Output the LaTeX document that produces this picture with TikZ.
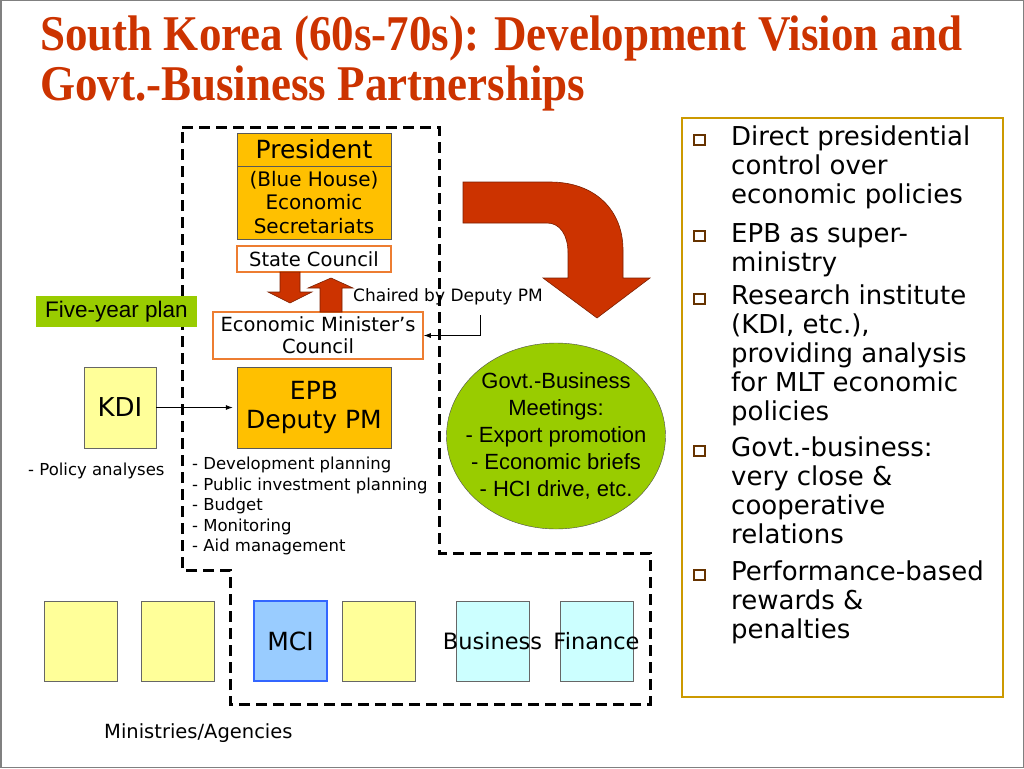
\documentclass[tikz,border=0pt]{standalone}
\usepackage{fontspec}
\setmainfont{DejaVu Sans}
\newfontfamily\arialfont{Liberation Sans}
\newfontfamily\titlefont{Liberation Serif}
\usetikzlibrary{shapes.geometric,arrows.meta}

\definecolor{titlered}{RGB}{204,51,0}
\definecolor{gold}{RGB}{255,192,0}
\definecolor{councilorange}{RGB}{237,125,49}
\definecolor{paleyellow}{RGB}{255,255,153}
\definecolor{leafgreen}{RGB}{153,204,0}
\definecolor{brick}{RGB}{204,51,0}
\definecolor{mciblue}{RGB}{153,204,255}
\definecolor{mciedge}{RGB}{51,102,255}
\definecolor{palecyan}{RGB}{204,255,255}
\definecolor{panelgold}{RGB}{204,153,0}
\definecolor{bulletbrown}{RGB}{102,51,0}

\tikzset{
  goldbox/.style={draw=black!65, fill=gold, inner sep=0pt, align=center, minimum width=154pt},
  councilbox/.style={draw=councilorange, line width=1.5pt, fill=white, inner sep=0pt, align=center},
  ministry/.style={draw=black!60, fill=paleyellow, minimum width=73pt, minimum height=80pt, inner sep=0pt},
  blockarrow/.style={fill=brick, draw=brick!60!black, line width=0.6pt},
  bulletsq/.style={draw=bulletbrown, line width=2pt, minimum width=11pt, minimum height=10pt, inner sep=0pt},
  bullettext/.style={anchor=north west, align=left, inner sep=0pt, font=\fontsize{26}{29}\selectfont},
  link/.style={-{Latex[length=7pt,width=5pt]}, line width=0.8pt},
}

\begin{document}
\begin{tikzpicture}[x=1pt,y=-1pt]
    \useasboundingbox (0,0) rectangle (1024,768);
    \draw[gray, line width=1.5pt] (0.75,0.75) rectangle (1023.25,767.25);
    % title
    \path (40,50) node[anchor=base west, inner sep=0pt, text=titlered] (title1) {\scalebox{0.9}[1]{\titlefont\bfseries\fontsize{50}{60}\selectfont South Korea (60s-70s): Development Vision and}};
    \path (40,100) node[anchor=base west, inner sep=0pt, text=titlered] (title2) {\scalebox{0.9}[1]{\titlefont\bfseries\fontsize{50}{60}\selectfont Govt.-Business Partnerships}};

    % government boundary
    \draw[line width=3pt, dash pattern=on 11pt off 6pt] (182,127) -- (439,127) -- (439,553) -- (650,553) -- (650,704) -- (230,704) -- (230,570) -- (182,570) -- cycle;

    \node[goldbox, minimum height=33pt, font=\fontsize{25}{28}\selectfont] (pres) at (314,149.5) {President};
    \node[goldbox, minimum height=73pt, font=\fontsize{20}{23.5}\selectfont] (bluehouse) at (314,202.5) {(Blue House)\\ Economic\\ Secretariats};
    \node[councilbox, minimum width=154pt, minimum height=26pt, font=\fontsize{19.5}{22}\selectfont] (state) at (314,259) {State Council};
    \node[councilbox, minimum width=210pt, minimum height=47pt, font=\fontsize{19.5}{22}\selectfont] (emc) at (318,335.5) {Economic Minister’s\\ Council};
    \node[goldbox, minimum height=81pt, font=\fontsize{25}{29}\selectfont] (epb) at (314,407.5) {EPB\\ Deputy PM};

    % block arrows between the councils
    \draw[blockarrow] (280,272) -- (300,272) -- (300,292) -- (312,292) -- (290,303) -- (268,292) -- (280,292) -- cycle;
    \draw[blockarrow] (320,312) -- (320,288) -- (308,288) -- (331,278) -- (353,288) -- (342,288) -- (342,312) -- cycle;

    \node[fill=leafgreen, minimum width=161pt, minimum height=31pt, inner sep=0pt, font=\arialfont\fontsize{22.5}{25}\selectfont] (plan) at (116.5,311.5) {Five-year plan};
    \node[draw=black!60, fill=paleyellow, minimum width=72pt, minimum height=81pt, inner sep=0pt, font=\fontsize{26}{30}\selectfont] (kdi) at (120,407.5) {KDI};
    \draw[link, shorten >=4pt] (kdi) -- (epb);
    \node[anchor=base west, inner sep=0pt, font=\fontsize{16.5}{19}\selectfont] (analyses) at (28,475) {- Policy analyses};
    \node[anchor=north west, align=left, inner sep=0pt, font=\fontsize{16.5}{20.5}\selectfont] (tasks) at (192,457) {- Development planning\\- Public investment planning\\- Budget\\- Monitoring\\- Aid management};

    \node[anchor=base west, inner sep=0pt, font=\fontsize{17}{20}\selectfont] (chair) at (353,301) {Chaired by Deputy PM};
    \coordinate (chairfoot) at (480,315);
    \draw[link] (chairfoot) |- (emc.east);

    % turn towards business
    \draw[blockarrow] (463,182) -- (550,182) .. controls (595,182) and (623,210) .. (623,250) -- (623,278) -- (650,278) -- (597,318) -- (543,278) -- (568,278) -- (568,253) .. controls (568,235) and (560,223) .. (547,223) -- (463,223) -- cycle;

    \node[ellipse, draw=black!70, fill=leafgreen, minimum width=219pt, minimum height=186pt, inner sep=0pt] (meet) at (556,436) {};
    \path (meet) node[align=center, inner sep=0pt, font=\arialfont\fontsize{22}{27}\selectfont] (meettext) {Govt.-Business\\ Meetings:\\ - Export promotion\\ - Economic briefs\\ - HCI drive, etc.};

    % ministries
    \node[ministry] (min1) at (80.5,641) {};
    \node[ministry] (min2) at (177.5,641) {};
    \node[ministry, draw=mciedge, line width=2pt, fill=mciblue, font=\fontsize{25}{28}\selectfont] (mci) at (290.5,641) {MCI};
    \node[ministry] (min3) at (378.5,641) {};
    \node[ministry, fill=palecyan] (business) at (492.5,641) {};
    \node[ministry, fill=palecyan] (finance) at (596.5,641) {};
    \path (business) node[font=\fontsize{22.5}{26}\selectfont] {Business};
    \path (finance) node[font=\fontsize{22.5}{26}\selectfont] {Finance};
    \node[anchor=base west, inner sep=0pt, font=\fontsize{19.5}{23}\selectfont] (ministries) at (104,738) {Ministries/Agencies};

    % summary panel
    \draw[panelgold, line width=2.5pt] (682,118) rectangle (1003,697);
    \node[bulletsq] (sq1) at (699,140) {};
    \node[bullettext] (pt1) at (731,126) {Direct presidential\\control over\\economic policies};
    \node[bulletsq] (sq2) at (699,236) {};
    \node[bullettext] (pt2) at (731,223) {EPB as super-\\ministry};
    \node[bulletsq] (sq3) at (699,299) {};
    \node[bullettext] (pt3) at (731,285) {Research institute\\(KDI, etc.),\\providing analysis\\for MLT economic\\policies};
    \node[bulletsq] (sq4) at (699,451) {};
    \node[bullettext] (pt4) at (731,437) {Govt.-business:\\very close \&\\cooperative\\relations};
    \node[bulletsq] (sq5) at (699,575) {};
    \node[bullettext] (pt5) at (731,561) {Performance-based\\rewards \&\\penalties};
\end{tikzpicture}
\end{document}
